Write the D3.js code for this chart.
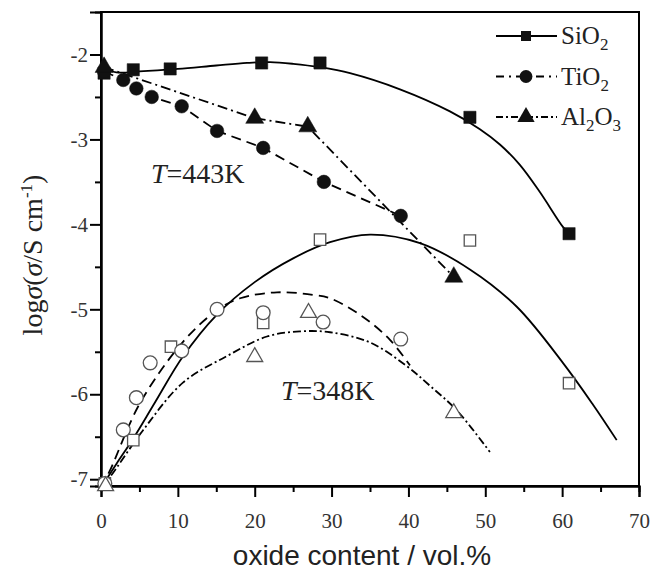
<!DOCTYPE html>
<html>
<head>
<meta charset="utf-8">
<script src="https://cdn.jsdelivr.net/npm/d3@7"></script>
<style>
  body { margin: 0; background: #fff; }
  svg { display: block; }
</style>
</head>
<body>
<svg id="chart"></svg>
<script>
'use strict';

// T = 443 K, measured points (filled markers)
const sio2HiX = [0.4, 4.2, 9.0, 20.9, 28.5, 48.0, 60.9];
const sio2HiY = [-2.22, -2.18, -2.17, -2.10, -2.10, -2.74, -4.11];
const tio2HiX = [0.4, 2.9, 4.6, 6.6, 10.5, 15.1, 21.1, 29.0, 39.0];
const tio2HiY = [-2.20, -2.30, -2.40, -2.50, -2.61, -2.90, -3.10, -3.50, -3.90];
const al2o3HiX = [0.4, 20.0, 26.9, 45.9];
const al2o3HiY = [-2.15, -2.75, -2.85, -4.62];

// T = 443 K, SiO2 fitted curve
const sio2HiFitX = [0, 2, 5, 10, 15, 19, 22, 25, 28.5, 32.4, 38.9, 45.4, 49.3, 51.9, 54.5, 57.1, 60.1, 61];
const sio2HiFitY = [-2.15, -2.21, -2.20, -2.17, -2.13, -2.10, -2.09, -2.11, -2.15, -2.22, -2.41, -2.67, -2.88, -3.06, -3.30, -3.62, -4.03, -4.12];

// T = 348 K, measured points (open markers)
const sio2LoX = [0.5, 4.2, 9.1, 21.1, 28.5, 48.0, 60.9];
const sio2LoY = [-7.05, -6.54, -5.44, -5.16, -4.18, -4.19, -5.87];
const tio2LoX = [0.5, 2.9, 4.6, 6.4, 10.5, 15.1, 21.1, 28.9, 39.0];
const tio2LoY = [-7.05, -6.42, -6.04, -5.63, -5.49, -5.00, -5.04, -5.15, -5.35];
const al2o3LoX = [0.6, 20.0, 27.0, 45.9];
const al2o3LoY = [-7.08, -5.56, -5.04, -6.22];

// T = 348 K, fitted curves
const sio2LoFitX = [0, 2, 4.2, 7, 10.7, 15, 20, 25, 29.8, 35, 41.5, 48, 54.1, 60.1, 64, 67.1];
const sio2LoFitY = [-7.10, -6.82, -6.52, -6.10, -5.55, -5.07, -4.68, -4.40, -4.21, -4.12, -4.22, -4.53, -4.97, -5.63, -6.12, -6.54];
const tio2LoFitX = [0, 1.2, 5.1, 10.7, 15.1, 18.1, 22.9, 27.6, 29.8, 34.1, 37.6, 40.2];
const tio2LoFitY = [-7.10, -6.89, -6.10, -5.38, -5.01, -4.87, -4.80, -4.83, -4.87, -5.09, -5.36, -5.66];
const al2o3LoFitX = [0, 1.2, 5.5, 10.7, 16.4, 21.6, 25.9, 29.8, 35.0, 39.8, 42.8, 46.3, 50.6];
const al2o3LoFitY = [-7.10, -6.97, -6.42, -5.86, -5.55, -5.32, -5.26, -5.27, -5.39, -5.67, -5.90, -6.19, -6.68];

const xTicks = [0, 10, 20, 30, 40, 50, 60, 70];
const yTicks = [-2, -3, -4, -5, -6, -7];

const zip = (xs, ys) => xs.map((x, i) => [x, ys[i]]);

const width = 660;
const height = 570;
const svg = d3.select('#chart').attr('width', width).attr('height', height);

const x = d3.scaleLinear().domain([0, 70]).range([101, 639]);
const y = d3.scaleLinear().domain([-7.08, -1.5]).range([486, 12]);

const SERIF = '"Liberation Serif", "Times New Roman", serif';
const SANS = '"Liberation Sans", Arial, sans-serif';
const DASH = '10,6';
const DASHDOT = '10,4,2,4';
const DASHDOT_LO = '8,3,2,3';

// frame
svg.append('rect')
  .attr('x', x(0)).attr('y', y(-1.5))
  .attr('width', x(70) - x(0)).attr('height', y(-7.08) - y(-1.5))
  .attr('fill', 'none').attr('stroke', '#000').attr('stroke-width', 2);

// axes, major + minor ticks pointing out
svg.append('g').attr('transform', `translate(0,${y(-7.08)})`)
  .call(d3.axisBottom(x).tickValues(xTicks).tickSize(11).tickPadding(16).tickFormat(d3.format('d')));
svg.append('g').attr('transform', `translate(0,${y(-7.08)})`)
  .call(d3.axisBottom(x).tickValues(d3.range(5, 70, 10)).tickSize(6).tickFormat(''));
svg.append('g').attr('transform', `translate(${x(0)},0)`)
  .call(d3.axisLeft(y).tickValues(yTicks).tickSize(11).tickPadding(2).tickFormat((d) => '-' + Math.abs(d)));
svg.append('g').attr('transform', `translate(${x(0)},0)`)
  .call(d3.axisLeft(y).tickValues([-2.5, -3.5, -4.5, -5.5, -6.5]).tickSize(6).tickFormat(''));

svg.selectAll('.domain').attr('stroke-width', 2);
svg.selectAll('.tick line').attr('stroke-width', 2);
svg.selectAll('.tick text')
  .attr('font-family', SERIF).attr('font-size', '21px').attr('fill', '#333');

// fitted / connecting lines
const line = d3.line().x((d) => x(d[0])).y((d) => y(d[1]));
const smooth = d3.line().x((d) => x(d[0])).y((d) => y(d[1])).curve(d3.curveCatmullRom.alpha(0.5));

function drawPath(data, gen, dash) {
  svg.append('path')
    .datum(data)
    .attr('d', gen)
    .attr('fill', 'none')
    .attr('stroke', '#000')
    .attr('stroke-width', 1.8)
    .attr('stroke-dasharray', dash);
}

drawPath(zip(sio2HiFitX, sio2HiFitY), smooth, null);
drawPath(zip(tio2HiX, tio2HiY), line, DASH);
drawPath(zip(al2o3HiX, al2o3HiY), line, DASHDOT);
drawPath(zip(sio2LoFitX, sio2LoFitY), smooth, null);
drawPath(zip(tio2LoFitX, tio2LoFitY), smooth, DASH);
drawPath(zip(al2o3LoFitX, al2o3LoFitY), smooth, DASHDOT_LO);

// markers
const shapes = {
  square: d3.symbol().type(d3.symbolSquare),
  circle: d3.symbol().type(d3.symbolCircle),
  triangle: d3.symbol().type(d3.symbolTriangle),
};

function drawMarkers(data, shape, size, filled) {
  svg.append('g').selectAll('path')
    .data(data)
    .enter()
    .append('path')
    .attr('transform', (d) => `translate(${x(d[0])},${y(d[1])})`)
    .attr('d', shapes[shape].size(size))
    .attr('fill', filled ? '#111' : '#fff')
    .attr('stroke', filled ? '#111' : '#555')
    .attr('stroke-width', filled ? 0.5 : 1.3);
}

drawMarkers(zip(sio2LoX, sio2LoY), 'square', 130, false);
drawMarkers(zip(tio2LoX, tio2LoY), 'circle', 150, false);
drawMarkers(zip(al2o3LoX, al2o3LoY), 'triangle', 110, false);
drawMarkers(zip(sio2HiX, sio2HiY), 'square', 150, true);
drawMarkers(zip(tio2HiX, tio2HiY), 'circle', 145, true);
drawMarkers(zip(al2o3HiX, al2o3HiY), 'triangle', 140, true);

// legend
const legend = [
  { name: 'SiO', sub: ['2'], shape: 'square', dash: null, size: 100 },
  { name: 'TiO', sub: ['2'], shape: 'circle', dash: '8,5,2,5', size: 130 },
  { name: 'Al', sub: ['2', '3'], shape: 'triangle', dash: '7,3,2,3', size: 130 },
];
legend.forEach((item, i) => {
  const cy = 36 + i * 40.5;
  svg.append('line')
    .attr('x1', 496).attr('x2', 557).attr('y1', cy).attr('y2', cy)
    .attr('stroke', '#000').attr('stroke-width', 1.8)
    .attr('stroke-dasharray', item.dash);
  svg.append('path')
    .attr('transform', `translate(526,${cy})`)
    .attr('d', shapes[item.shape].size(item.size))
    .attr('fill', '#111');
  const t = svg.append('text')
    .attr('x', 561).attr('y', cy + 8)
    .attr('font-family', SERIF).attr('font-size', '25px').attr('fill', '#222');
  t.append('tspan').text(item.name);
  t.append('tspan').attr('dy', 6).attr('font-size', '17px').text(item.sub[0]);
  if (item.sub.length > 1) {
    t.append('tspan').attr('dy', -6).text('O');
    t.append('tspan').attr('dy', 6).attr('font-size', '17px').text(item.sub[1]);
  }
});

// temperature labels
function tempLabel(px, py, value) {
  const t = svg.append('text')
    .attr('x', px).attr('y', py)
    .attr('font-family', SERIF).attr('font-size', '28px').attr('fill', '#222');
  t.append('tspan').attr('font-style', 'italic').text('T');
  t.append('tspan').text('=' + value);
}
tempLabel(151, 183, '443K');
tempLabel(281, 400, '348K');

// axis titles
svg.append('text')
  .attr('x', 362).attr('y', 565)
  .attr('text-anchor', 'middle')
  .attr('font-family', SANS).attr('font-size', '28px').attr('fill', '#222')
  .text('oxide content / vol.%');

const yl = svg.append('text')
  .attr('transform', 'translate(42,255) rotate(-90)')
  .attr('text-anchor', 'middle')
  .attr('font-family', SERIF).attr('font-size', '28px').attr('fill', '#222');
yl.append('tspan').text('log');
yl.append('tspan').attr('font-style', 'italic').text('σ');
yl.append('tspan').text('(');
yl.append('tspan').attr('font-style', 'italic').text('σ');
yl.append('tspan').text('/S cm');
yl.append('tspan').attr('dy', -10).attr('font-size', '17px').text('-1');
yl.append('tspan').attr('dy', 10).text(')');
</script>
</body>
</html>
